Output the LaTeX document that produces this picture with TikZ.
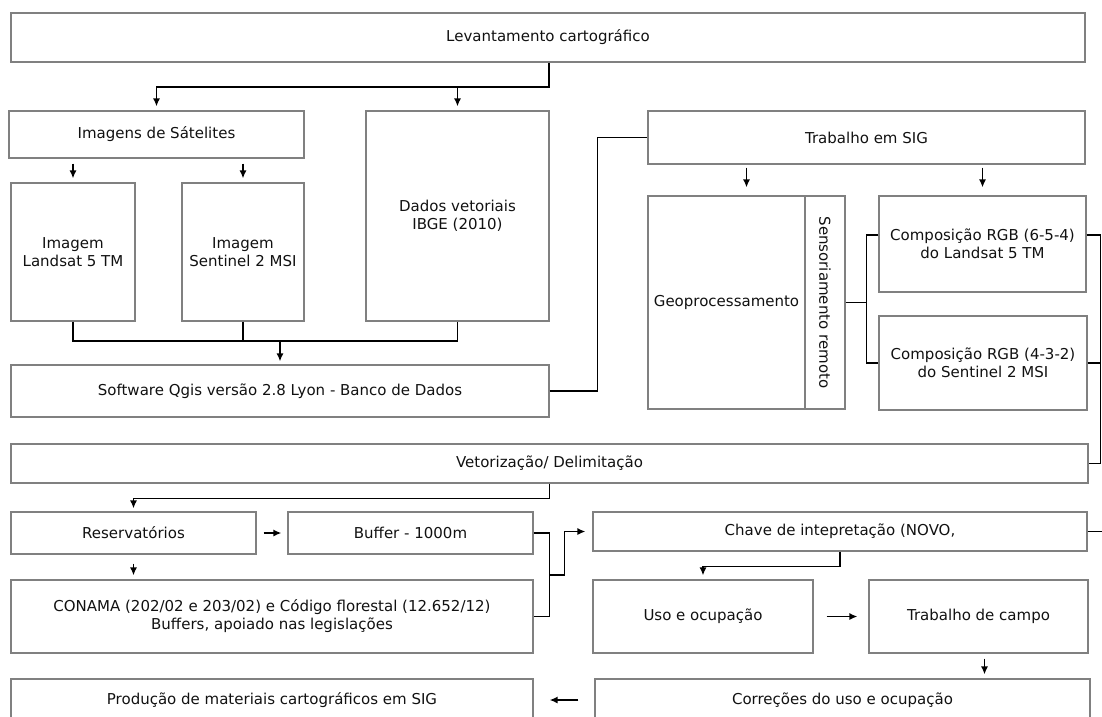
\documentclass[tikz,border=0pt]{standalone}
\usepackage{fontspec}
\setmainfont{DejaVu Sans}
\usetikzlibrary{arrows.meta,calc}
\definecolor{boxgray}{HTML}{808080}
\definecolor{txt}{HTML}{111111}
\begin{document}
\begin{tikzpicture}[>={Latex[length=8pt,width=7pt]}, x=1pt, y=-1pt,
    box/.style={draw=boxgray, line width=1.1pt, align=center, text=txt, inner sep=1pt,
        font=\fontsize{15}{18}\selectfont},
    link/.style={line width=1.6pt}]
    \useasboundingbox (0,0) rectangle (1102,716);
    \clip (0,0) rectangle (1102,716);

    % boxes, left half
    \node[box, minimum width=1074pt, minimum height=49pt] (lev) at (548,37.5) {Levantamento cartográfico};
    \node[box, minimum width=295pt, minimum height=47pt] (img) at (156.5,134.5) {Imagens de Sátelites};
    \node[box, minimum width=124pt, minimum height=138pt] (land) at (73,252) {Imagem\\Landsat 5 TM};
    \node[box, minimum width=122pt, minimum height=138pt] (sent) at (243,252) {Imagem\\Sentinel 2 MSI};
    \node[box, minimum width=183pt, minimum height=210pt] (dados) at (457.5,216) {Dados vetoriais\\IBGE (2010)};
    \node[box, minimum width=538pt, minimum height=52pt] (soft) at (280,391) {Software Qgis versão 2.8 Lyon - Banco de Dados};

    % boxes, right half
    \node[box, minimum width=437pt, minimum height=53pt] (sig) at (866.5,137.5) {Trabalho em SIG};
    \node[box, minimum width=157pt, minimum height=213pt] (geo) at (726.5,302.5) {Geoprocessamento};
    \node[box, minimum width=40pt, minimum height=213pt] (sens) at (825,302.5) {};
    \node[text=txt, font=\fontsize{15}{18}\selectfont, rotate=-90] (senstext) at (sens) {Sensoriamento remoto};
    \node[box, minimum width=207pt, minimum height=96pt] (comp1) at (982.5,244) {Composição RGB (6-5-4)\\do Landsat 5 TM};
    \node[box, minimum width=208pt, minimum height=94pt] (comp2) at (983,363) {Composição RGB (4-3-2)\\do Sentinel 2 MSI};

    % lower part
    \node[box, minimum width=1077pt, minimum height=39pt] (vet) at (549.5,463.5) {Vetorização/ Delimitação};
    \node[box, minimum width=245pt, minimum height=42pt] (res) at (133.5,533) {Reservatórios};
    \node[box, minimum width=245pt, minimum height=42pt] (buf) at (410.5,533) {Buffer - 1000m};
    \node[box, minimum width=522pt, minimum height=73pt] (conama) at (272,616.5) {CONAMA (202/02 e 203/02) e Código florestal (12.652/12)\\Buffers, apoiado nas legislações};
    \node[box, minimum width=494pt, minimum height=39pt] (chave) at (840,531.5) {Chave de intepretação (NOVO,};
    \node[box, minimum width=220pt, minimum height=73pt] (uso) at (703,616.5) {Uso e ocupação};
    \node[box, minimum width=219pt, minimum height=73pt] (campo) at (978.5,616.5) {Trabalho de campo};
    \node[box, minimum width=522pt, minimum height=42pt] (prod) at (272,700) {Produção de materiais cartográficos em SIG};
    \node[box, minimum width=495pt, minimum height=42pt] (corr) at (842.5,700) {Correções do uso e ocupação};

    % connectors
    \coordinate (j1) at (549,87);
    \draw[link,->,shorten >=4pt] (lev.south -| j1) -- (j1) -| (img.north);
    \draw[link,->,shorten >=4pt] (j1 -| dados.north) -- (dados.north);
    \foreach \b in {land,sent}
        \draw[link,->,shorten <=5pt,shorten >=4pt] (img.south -| \b.north) -- (\b.north);

    \coordinate (j2) at (280,341);
    \draw[link] (land.south) |- (j2) -| (dados.south);
    \draw[link] (sent.south) -- (sent.south |- j2);
    \draw[link,->,shorten >=3pt] (j2) -- (soft.north);
    \draw[link] (soft.east) -- ++(48,0) |- (sig.west);

    \coordinate (gs) at ($(geo.north west)!0.5!(sens.north east)$);
    \draw[link,->,shorten <=3pt,shorten >=8pt] (sig.south -| gs) -- (gs);
    \draw[link,->,shorten <=3pt,shorten >=8pt] (sig.south -| comp1.north) -- (comp1.north);

    \draw[link] (sens.east) -- ++(21,0) coordinate (j3);
    \draw[link] ([yshift=9pt]comp1.west) -| (j3) |- (comp2.west);
    \draw[link] ([yshift=9pt]comp1.east) -- ++(14,0) coordinate (j4) |- (vet.east);
    \draw[link] (comp2.east) -- (comp2.east -| j4);

    \draw[link,->,shorten >=3pt] (vet.south) -- ++(0,15) -| (res.north);
    \draw[link,->,shorten <=7pt,shorten >=6pt] (res.east) -- (buf.west);
    \draw[link,->,shorten <=9pt,shorten >=4pt] (res.south) -- (res.south |- conama.north);

    \draw[link] (buf.east) -- ++(16,0) coordinate (j5) |- (conama.east);
    \coordinate (j6) at (j5 |- conama.east);
    \draw[link,->,shorten >=7pt] ($(j5)!0.5!(j6)$) -- ++(15,0) |- (chave.west);
    \draw[link] (chave.east) -- ++(16,0) coordinate (j7);

    \draw[link,->,shorten >=4pt] (chave.south) -- ++(0,15) -| (uso.north);
    \draw[link,->,shorten <=13pt,shorten >=11pt] (uso.east) -- (campo.west);
    \draw[link,->,shorten <=5pt,shorten >=4pt] ([xshift=6pt]campo.south) -- ([xshift=6pt]campo.south |- corr.north);
    \draw[link,->,shorten <=16pt,shorten >=16pt] (corr.west) -- (prod.east);
\end{tikzpicture}
\end{document}
